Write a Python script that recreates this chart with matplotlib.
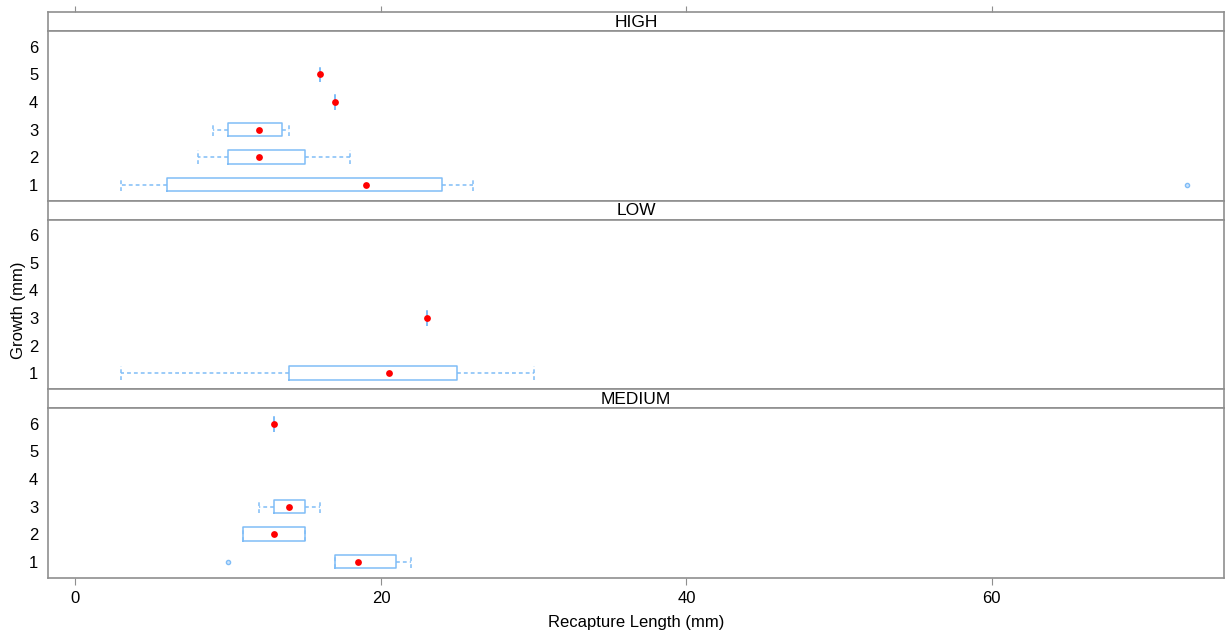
import matplotlib
matplotlib.use("Agg")
import matplotlib.pyplot as plt

plt.rcParams['font.family'] = ['Liberation Sans', 'DejaVu Sans']

panels = ["HIGH", "LOW", "MEDIUM"]

# per-panel box statistics (Growth level -> Recapture Length)
high_growth = [1, 2, 3, 4, 5]
high_whislo = [3, 8, 9, 17, 16]
high_q1 = [6, 10, 10, 17, 16]
high_med = [19, 12, 12, 17, 16]
high_q3 = [24, 15, 13.5, 17, 16]
high_whishi = [26, 18, 14, 17, 16]
high_fliers = [[72.8], [], [], [], []]

low_growth = [1, 3]
low_whislo = [3, 23]
low_q1 = [14, 23]
low_med = [20.5, 23]
low_q3 = [25, 23]
low_whishi = [30, 23]
low_fliers = [[], []]

med_growth = [1, 2, 3, 6]
med_whislo = [17, 11, 12, 13]
med_q1 = [17, 11, 13, 13]
med_med = [18.5, 13, 14, 13]
med_q3 = [21, 15, 15, 13]
med_whishi = [22, 15, 16, 13]
med_fliers = [[10], [], [], []]

y_ticks = [1, 2, 3, 4, 5, 6]
x_ticks = [0, 20, 40, 60]

data = {
    "HIGH": (high_growth, high_whislo, high_q1, high_med, high_q3, high_whishi, high_fliers),
    "LOW": (low_growth, low_whislo, low_q1, low_med, low_q3, low_whishi, low_fliers),
    "MEDIUM": (med_growth, med_whislo, med_q1, med_med, med_q3, med_whishi, med_fliers),
}

W, H = 1225, 631
fig = plt.figure(figsize=(W / 100, H / 100), dpi=100)

box_col = '#80bdf7'
frame_col = '#8f8f8f'
left, right = 48, 1224
top = 12
strip_h = 19
panel_h = 169.5
xlim = (-1.8, 75.2)
ylim = (0.42, 6.58)
fs = 12

def px_rect(x0, y0, w, h):
    return [x0 / W, 1 - (y0 + h) / H, w / W, h / H]

y = top
for i, name in enumerate(panels):
    # strip
    sax = fig.add_axes(px_rect(left, y, right - left, strip_h))
    sax.set_xlim(xlim)
    sax.set_ylim(0, 1)
    sax.set_yticks([])
    for s in sax.spines.values():
        s.set_color(frame_col)
        s.set_linewidth(1.2)
    if i == 0:
        sax.xaxis.tick_top()
        sax.set_xticks(x_ticks)
        sax.tick_params(axis='x', direction='out', length=4, color=frame_col,
                        labeltop=False, labelbottom=False, top=True, bottom=False)
    else:
        sax.set_xticks([])
    sax.text(0.5, 0.45, name, transform=sax.transAxes, ha='center', va='center',
             fontsize=12.5, color='black')
    y += strip_h

    ax = fig.add_axes(px_rect(left, y, right - left, panel_h))
    g, wlo, q1, med, q3, whi, fl = data[name]
    stats = []
    for k in range(len(g)):
        stats.append(dict(whislo=wlo[k], q1=q1[k], med=med[k], q3=q3[k],
                          whishi=whi[k], fliers=fl[k]))
    ax.bxp(stats, positions=g, vert=False, widths=0.5, capwidths=0.5,
           showfliers=True, manage_ticks=False,
           boxprops=dict(color=box_col, linewidth=1.1),
           whiskerprops=dict(color=box_col, linewidth=1.1, linestyle=(0, (2.5, 2))),
           capprops=dict(color=box_col, linewidth=1.1, linestyle=(0, (2.5, 2))),
           medianprops=dict(linewidth=0),
           flierprops=dict(marker='o', markersize=3, markerfacecolor='#cfe5fb',
                           markeredgecolor=box_col, markeredgewidth=1.0))
    ax.scatter(med, g, s=24, color='#ff0000', zorder=5, linewidths=0)
    ax.set_xlim(xlim)
    ax.set_ylim(ylim)
    ax.set_yticks(y_ticks)
    ax.set_yticklabels([str(t) for t in y_ticks], fontsize=fs)
    ax.tick_params(axis='y', length=0, pad=7)
    for s in ax.spines.values():
        s.set_color(frame_col)
        s.set_linewidth(1.2)
    if i == len(panels) - 1:
        ax.set_xticks(x_ticks)
        ax.set_xticklabels([str(t) for t in x_ticks], fontsize=fs)
        ax.tick_params(axis='x', direction='out', length=5, color=frame_col, pad=5)
        ax.set_xlabel("Recapture Length (mm)", fontsize=fs, labelpad=6)
    else:
        ax.set_xticks([])
    y += panel_h

fig.text(19 / W, 1 - 310 / H, "Growth (mm)", rotation=90, ha='center', va='center',
         fontsize=fs)

fig.savefig("out.png", dpi=100, facecolor='white')
